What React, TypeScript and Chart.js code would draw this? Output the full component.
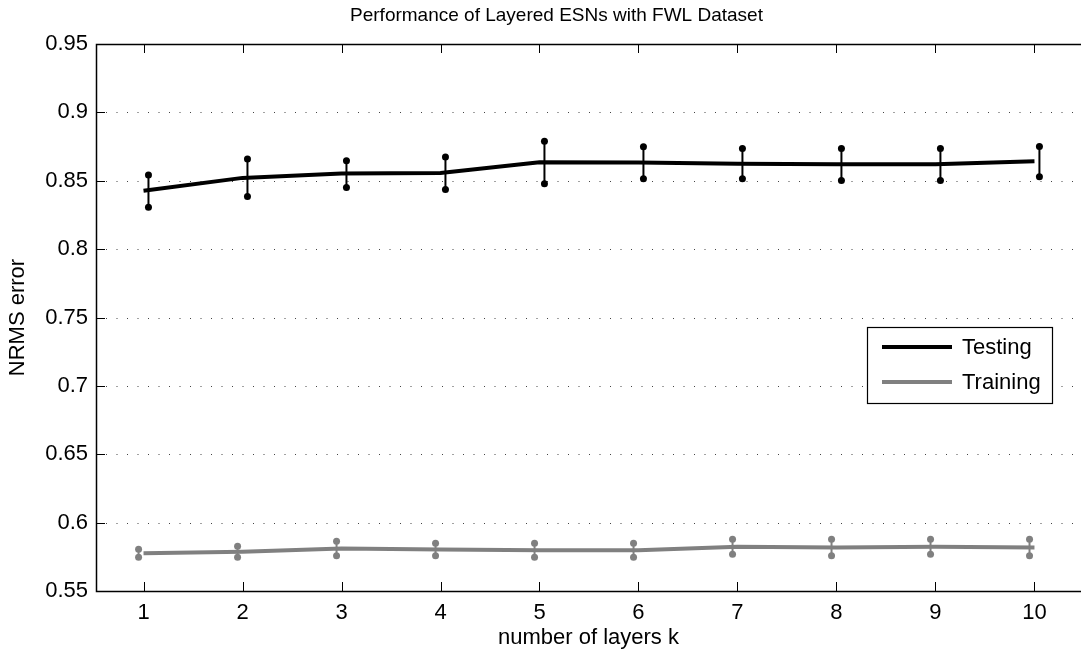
import React, { useEffect, useRef } from 'react';
import { Chart, registerables } from 'chart.js';

Chart.register(...registerables);

const layers = [1, 2, 3, 4, 5, 6, 7, 8, 9, 10];
const testingMean = [0.8427, 0.8521, 0.8553, 0.8556, 0.8635, 0.8634, 0.8624, 0.8621, 0.8621, 0.8642];
const testingLow = [0.8307, 0.8385, 0.8451, 0.8436, 0.8478, 0.8514, 0.8514, 0.8502, 0.8502, 0.8529];
const testingHigh = [0.8542, 0.8659, 0.8646, 0.8673, 0.8788, 0.8749, 0.8736, 0.8736, 0.8736, 0.8751];
const trainingMean = [0.5776, 0.5787, 0.5811, 0.5803, 0.5798, 0.5798, 0.5823, 0.5818, 0.5823, 0.5818];
const trainingLow = [0.5747, 0.5747, 0.5758, 0.5758, 0.5747, 0.5747, 0.5768, 0.5758, 0.5768, 0.5758];
const trainingHigh = [0.5805, 0.5827, 0.5864, 0.5849, 0.5849, 0.5849, 0.5878, 0.5878, 0.5878, 0.5878];
const yTickValues = [0.55, 0.6, 0.65, 0.7, 0.75, 0.8, 0.85, 0.9, 0.95];
const yTickLabels = ['0.55', '0.6', '0.65', '0.7', '0.75', '0.8', '0.85', '0.9', '0.95'];
const seriesLabels = ['Testing', 'Training'];
const titleText = 'Performance of Layered ESNs with FWL Dataset';
const xTitle = 'number of layers k';
const yTitle = 'NRMS error';

const FAMILY = '"Liberation Sans", Arial, Helvetica, sans-serif';
const TEST_COLOR = '#000000';
const TRAIN_COLOR = '#808080';
const ERR_SHIFT = 0.05;

const framePlugin = {
  id: 'matlabFrame',
  beforeDatasetsDraw(chart: any) {
    const { ctx, chartArea } = chart;
    const xs = chart.scales.x;
    const ys = chart.scales.y;
    const { left, right, top, bottom } = chartArea;
    ctx.save();
    ctx.strokeStyle = '#444';
    ctx.lineWidth = 1;
    ctx.setLineDash([1, 9.5]);
    yTickValues.forEach((v) => {
      if (v === yTickValues[0] || v === yTickValues[yTickValues.length - 1]) return;
      const y = Math.round(ys.getPixelForValue(v)) + 0.5;
      ctx.beginPath();
      ctx.moveTo(left + 10, y);
      ctx.lineTo(right, y);
      ctx.stroke();
    });
    ctx.setLineDash([]);
    ctx.strokeStyle = '#000';
    ctx.lineWidth = 1;
    const tick = 9;
    layers.forEach((v) => {
      const x = Math.round(xs.getPixelForValue(v)) + 0.5;
      ctx.beginPath();
      ctx.moveTo(x, bottom);
      ctx.lineTo(x, bottom - tick);
      ctx.moveTo(x, top);
      ctx.lineTo(x, top + tick);
      ctx.stroke();
    });
    yTickValues.forEach((v) => {
      const y = Math.round(ys.getPixelForValue(v)) + 0.5;
      ctx.beginPath();
      ctx.moveTo(left, y);
      ctx.lineTo(left + tick, y);
      ctx.stroke();
    });
    ctx.lineWidth = 1.5;
    ctx.beginPath();
    ctx.moveTo(right + 2, Math.round(top) + 0.5);
    ctx.lineTo(Math.round(left) + 0.5, Math.round(top) + 0.5);
    ctx.lineTo(Math.round(left) + 0.5, Math.round(bottom) + 0.5);
    ctx.lineTo(right + 2, Math.round(bottom) + 0.5);
    ctx.stroke();
    ctx.restore();
  },
  afterDatasetsDraw(chart: any) {
    const { ctx } = chart;
    const xs = chart.scales.x;
    const ys = chart.scales.y;
    const drawBars = (low: number[], high: number[], shift: number, color: string) => {
      ctx.save();
      ctx.strokeStyle = color;
      ctx.fillStyle = color;
      ctx.lineWidth = 2;
      layers.forEach((k, i) => {
        const x = xs.getPixelForValue(k + shift);
        const y1 = ys.getPixelForValue(low[i]);
        const y2 = ys.getPixelForValue(high[i]);
        ctx.beginPath();
        ctx.moveTo(x, y1);
        ctx.lineTo(x, y2);
        ctx.stroke();
        [y1, y2].forEach((y) => {
          ctx.beginPath();
          ctx.arc(x, y, 3.5, 0, Math.PI * 2);
          ctx.fill();
        });
      });
      ctx.restore();
    };
    drawBars(trainingLow, trainingHigh, -ERR_SHIFT, TRAIN_COLOR);
    drawBars(testingLow, testingHigh, ERR_SHIFT, TEST_COLOR);
  },
  afterDraw(chart: any) {
    const { ctx, chartArea } = chart;
    ctx.save();
    // title
    ctx.fillStyle = '#000';
    ctx.font = `19px ${FAMILY}`;
    ctx.textAlign = 'center';
    ctx.textBaseline = 'middle';
    ctx.fillText(titleText, (chartArea.left + chartArea.right) / 2 - 32, 16);
    // legend
    const bx = chartArea.right - 214;
    const by = chartArea.top + 283;
    const bw = 185;
    const bh = 76;
    ctx.fillStyle = '#fff';
    ctx.fillRect(bx, by, bw, bh);
    ctx.strokeStyle = '#000';
    ctx.lineWidth = 1.2;
    ctx.strokeRect(Math.round(bx) + 0.5, Math.round(by) + 0.5, bw, bh);
    const colors = [TEST_COLOR, TRAIN_COLOR];
    const rows = [20, 55];
    ctx.font = `22px ${FAMILY}`;
    ctx.textAlign = 'left';
    ctx.textBaseline = 'middle';
    seriesLabels.forEach((lab, i) => {
      const y = by + rows[i];
      ctx.strokeStyle = colors[i];
      ctx.lineWidth = 4;
      ctx.beginPath();
      ctx.moveTo(bx + 15, y);
      ctx.lineTo(bx + 85, y);
      ctx.stroke();
      ctx.fillStyle = '#000';
      ctx.fillText(lab, bx + 95, y + 1);
    });
    ctx.restore();
  },
};

export default function App() {
  const ref = useRef<HTMLCanvasElement | null>(null);
  useEffect(() => {
    document.body.style.margin = '0';
    const canvas = ref.current;
    if (!canvas) return;
    const font = { family: FAMILY, size: 22, weight: 'normal' as const };
    const chart = new Chart(canvas, {
      type: 'line',
      data: {
        datasets: [
          {
            label: seriesLabels[0],
            data: layers.map((x, i) => ({ x, y: testingMean[i] })),
            borderColor: TEST_COLOR,
            backgroundColor: TEST_COLOR,
            borderWidth: 4,
            pointRadius: 0,
            tension: 0,
          },
          {
            label: seriesLabels[1],
            data: layers.map((x, i) => ({ x, y: trainingMean[i] })),
            borderColor: TRAIN_COLOR,
            backgroundColor: TRAIN_COLOR,
            borderWidth: 4,
            pointRadius: 0,
            tension: 0,
          },
        ],
      },
      options: {
        animation: false,
        responsive: false,
        devicePixelRatio: 1,
        layout: { padding: { top: 44, left: 0, right: 0, bottom: 0 } },
        plugins: {
          legend: { display: false },
          tooltip: { enabled: false },
          title: { display: false },
        },
        scales: {
          x: {
            type: 'linear',
            min: 0.52,
            max: 10.47,
            afterBuildTicks: (s: any) => {
              s.ticks = layers.map((v) => ({ value: v }));
            },
            afterFit: (s: any) => {
              s.height = 60;
            },
            grid: { display: false, drawTicks: false },
            border: { display: false },
            ticks: {
              font,
              color: '#000',
              padding: 9,
              maxRotation: 0,
              autoSkip: false,
              callback: (v: any) => String(v),
            },
            title: { display: true, text: xTitle, color: '#000', font, padding: { top: 0, bottom: 0 } },
          },
          y: {
            type: 'linear',
            min: 0.55,
            max: 0.95,
            afterBuildTicks: (s: any) => {
              s.ticks = yTickValues.map((v) => ({ value: v }));
            },
            afterFit: (s: any) => {
              s.width = 96;
            },
            grid: { display: false, drawTicks: false },
            border: { display: false },
            ticks: {
              font,
              color: '#000',
              padding: 8,
              callback: (v: any) => {
                const idx = yTickValues.findIndex((t) => Math.abs(t - v) < 1e-9);
                return idx >= 0 ? yTickLabels[idx] : '';
              },
            },
            title: { display: true, text: yTitle, color: '#000', font, padding: { top: 5, bottom: 0 } },
          },
        },
      },
      plugins: [framePlugin],
    });
    return () => chart.destroy();
  }, []);
  return (
    <div style={{ width: 1081, height: 651 }}>
      <canvas ref={ref} width={1081} height={651} style={{ display: 'block' }} />
    </div>
  );
}
